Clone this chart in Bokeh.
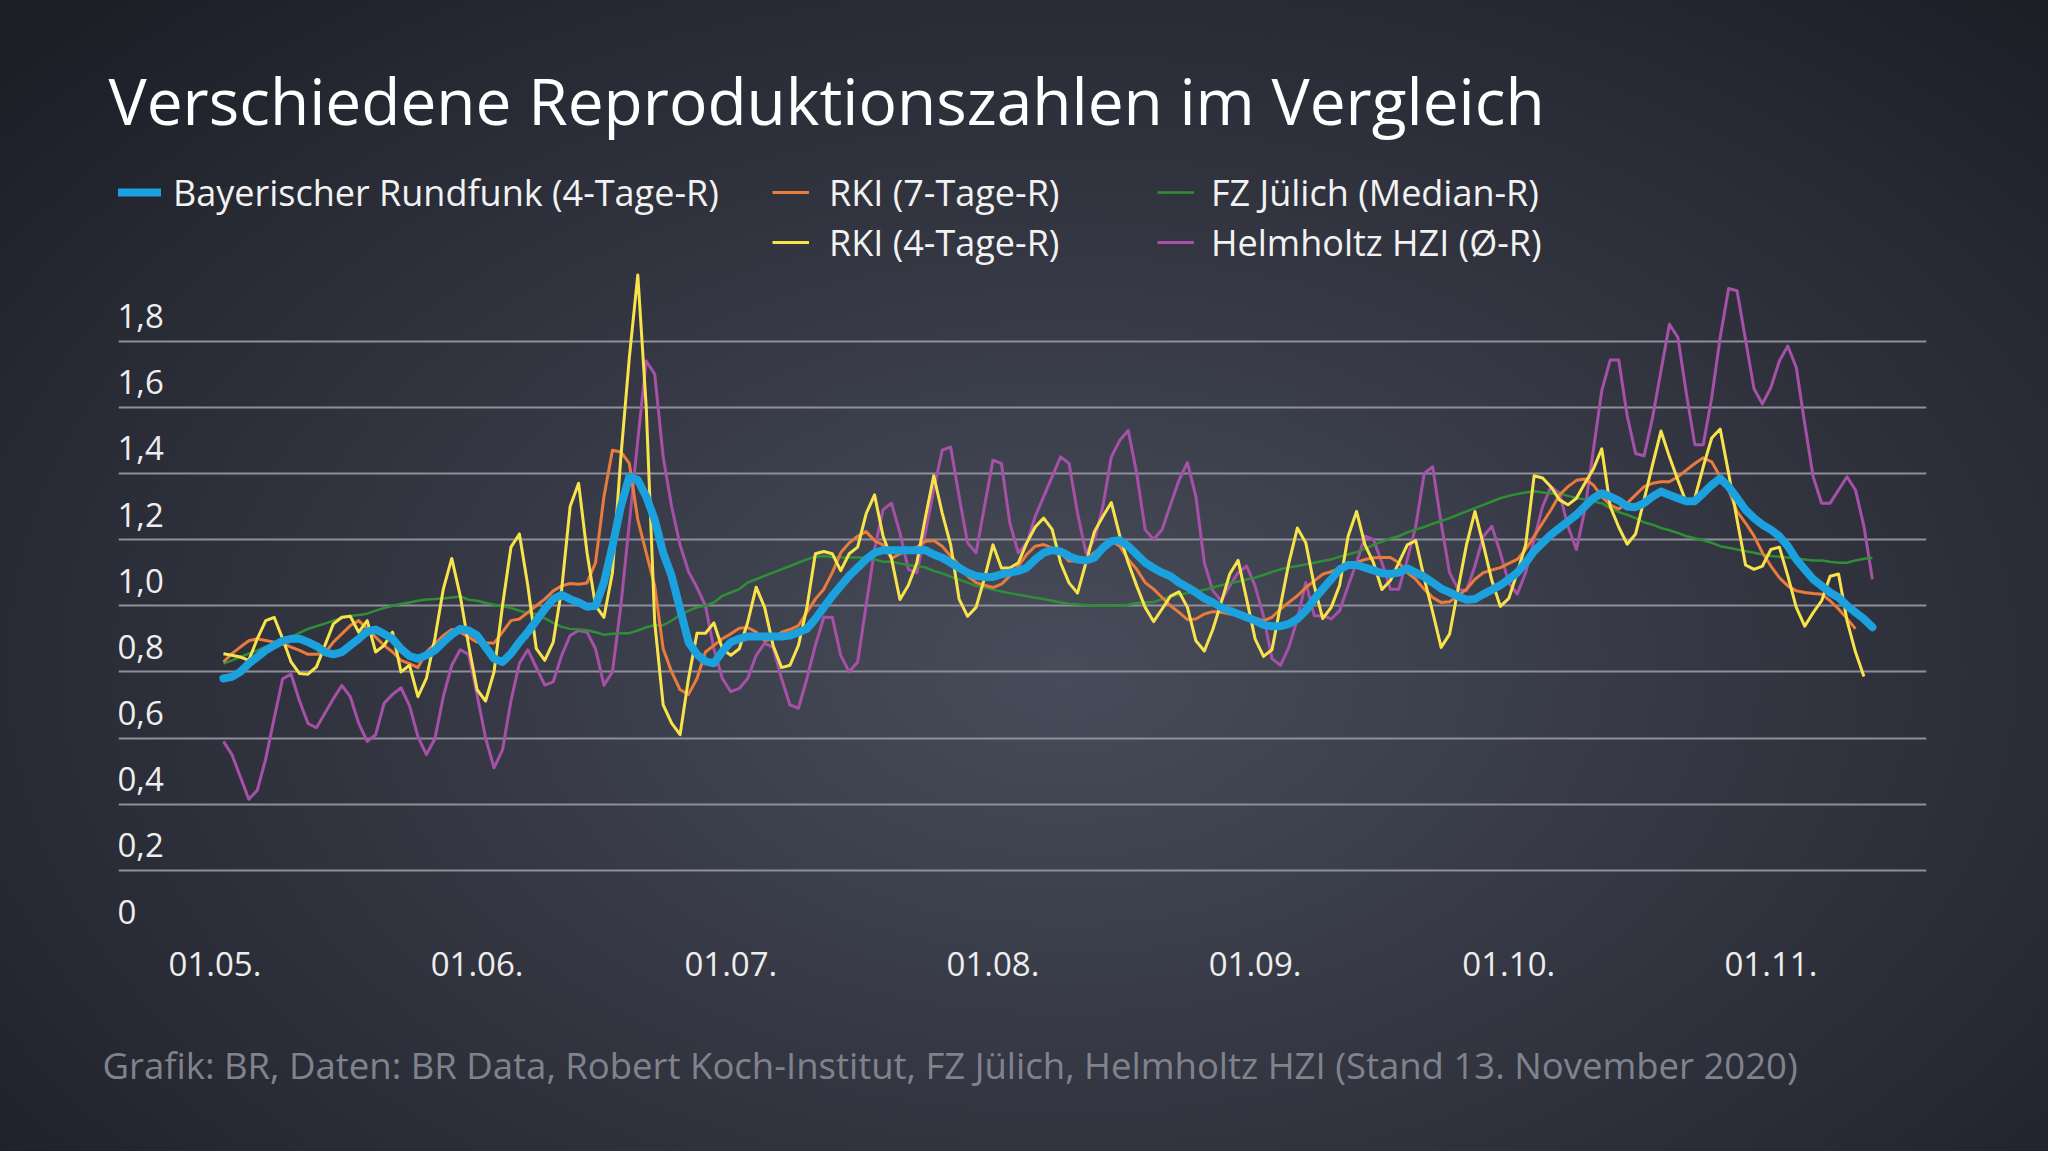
import pandas as pd
from bokeh.plotting import figure
from bokeh.models import (Range1d, FixedTicker, DatetimeTickFormatter, Legend, LegendItem,
                          Title, ColumnDataSource)
from bokeh.core.properties import value
from bokeh.embed import file_html
from bokeh.resources import INLINE

# ---------------- data (daily values) ----------------
series_start = "2020-05-02"

br_4tage = [
    0.78, 0.785, 0.80, 0.825, 0.845, 0.865, 0.88, 0.894, 0.90, 0.90,
    0.89, 0.878, 0.86, 0.853, 0.86, 0.88, 0.90, 0.922, 0.928, 0.915,
    0.90, 0.87, 0.848, 0.84, 0.85, 0.865, 0.89, 0.913, 0.93, 0.925,
    0.91, 0.875, 0.84, 0.83, 0.855, 0.89, 0.92, 0.955, 0.99, 1.02,
    1.033, 1.02, 1.01, 0.997, 1.0, 1.07, 1.18, 1.30, 1.39, 1.38,
    1.33, 1.26, 1.16, 1.09, 0.99, 0.89, 0.853, 0.832, 0.826, 0.862,
    0.89, 0.90, 0.907, 0.907, 0.907, 0.907, 0.907, 0.91, 0.92, 0.93,
    0.96, 0.995, 1.03, 1.06, 1.09, 1.115, 1.14, 1.16, 1.168, 1.168,
    1.168, 1.168, 1.168, 1.168, 1.155, 1.145, 1.13, 1.115, 1.10, 1.09,
    1.087, 1.087, 1.095, 1.10, 1.105, 1.115, 1.14, 1.16, 1.168, 1.164,
    1.15, 1.14, 1.137, 1.145, 1.175, 1.195, 1.198, 1.18, 1.155, 1.13,
    1.114, 1.10, 1.089, 1.07, 1.056, 1.04, 1.022, 1.01, 0.995, 0.985,
    0.975, 0.965, 0.955, 0.942, 0.938, 0.938, 0.945, 0.96, 0.985, 1.02,
    1.05, 1.08, 1.11, 1.123, 1.123, 1.115, 1.107, 1.098, 1.096, 1.10,
    1.113, 1.10, 1.087, 1.07, 1.052, 1.04, 1.028, 1.018, 1.02, 1.035,
    1.048, 1.062, 1.08, 1.10, 1.13, 1.165, 1.19, 1.215, 1.235, 1.255,
    1.275, 1.30, 1.325, 1.34, 1.33, 1.318, 1.30, 1.298, 1.31, 1.33,
    1.345, 1.335, 1.325, 1.316, 1.316, 1.34, 1.365, 1.385, 1.36, 1.325,
    1.29, 1.265, 1.245, 1.23, 1.21, 1.18, 1.14, 1.11, 1.08, 1.06,
    1.04, 1.025, 1.0, 0.98, 0.96, 0.935,
]

rki_7tage = [
    0.83, 0.855, 0.875, 0.894, 0.90, 0.895, 0.89, 0.885, 0.875, 0.865,
    0.853, 0.853, 0.857, 0.89, 0.915, 0.94, 0.955, 0.93, 0.905, 0.88,
    0.86, 0.835, 0.825, 0.813, 0.86, 0.885, 0.91, 0.928, 0.92, 0.905,
    0.89, 0.887, 0.887, 0.92, 0.955, 0.96, 0.98, 1.0, 1.02, 1.045,
    1.06, 1.067, 1.065, 1.069, 1.13, 1.33, 1.47, 1.465, 1.43, 1.26,
    1.16, 1.06, 0.87, 0.80, 0.746, 0.732, 0.78, 0.86, 0.88, 0.90,
    0.915, 0.932, 0.934, 0.92, 0.895, 0.90, 0.92, 0.928, 0.94, 0.98,
    1.02, 1.05, 1.10, 1.16, 1.19, 1.21, 1.224, 1.197, 1.184, 1.143,
    1.157, 1.167, 1.177, 1.195, 1.197, 1.18, 1.15, 1.123, 1.09, 1.07,
    1.062, 1.055, 1.065, 1.09, 1.12, 1.155, 1.18, 1.185, 1.175, 1.16,
    1.135, 1.135, 1.14, 1.16, 1.18, 1.195, 1.18, 1.14, 1.11, 1.07,
    1.05, 1.025, 1.0, 0.98, 0.958, 0.96, 0.975, 0.982, 0.98, 0.975,
    0.975, 0.97, 0.962, 0.955, 0.965, 0.99, 1.01, 1.03, 1.055, 1.075,
    1.095, 1.103, 1.113, 1.12, 1.13, 1.14, 1.145, 1.146, 1.146, 1.13,
    1.10, 1.08, 1.05, 1.025, 1.01, 1.012, 1.03, 1.05, 1.08, 1.10,
    1.108, 1.115, 1.128, 1.14, 1.17, 1.21, 1.25, 1.29, 1.335, 1.36,
    1.379, 1.383, 1.365, 1.33, 1.305, 1.292, 1.31, 1.335, 1.36, 1.37,
    1.375, 1.375, 1.39, 1.41, 1.43, 1.447, 1.435, 1.39, 1.35, 1.285,
    1.25, 1.211, 1.16, 1.12, 1.085, 1.06, 1.045, 1.04, 1.037, 1.035,
    1.015, 0.99, 0.961, 0.93,
]

rki_4tage = [
    0.855, 0.85, 0.845, 0.835, 0.90, 0.955, 0.965, 0.90, 0.83, 0.795,
    0.793, 0.815, 0.88, 0.945, 0.965, 0.968, 0.92, 0.955, 0.86, 0.88,
    0.92, 0.80, 0.82, 0.725, 0.78, 0.90, 1.05, 1.143, 1.03, 0.88,
    0.746, 0.712, 0.80, 1.0, 1.177, 1.217, 1.06, 0.87, 0.835, 0.89,
    1.05, 1.30, 1.37, 1.16, 1.0, 0.965, 1.10, 1.45, 1.75, 2.0,
    1.60, 0.95, 0.70, 0.645, 0.61, 0.78, 0.917, 0.917, 0.948, 0.87,
    0.85, 0.87, 0.95, 1.056, 0.995, 0.88, 0.813, 0.82, 0.88, 0.995,
    1.157, 1.164, 1.157, 1.106, 1.157, 1.177, 1.278, 1.335, 1.211, 1.143,
    1.019, 1.062, 1.13, 1.265, 1.393, 1.28, 1.184, 1.02, 0.968, 0.995,
    1.083, 1.184, 1.114, 1.114, 1.13, 1.19, 1.238, 1.265, 1.231, 1.13,
    1.069, 1.038, 1.13, 1.224, 1.27, 1.312, 1.211, 1.13, 1.06, 0.995,
    0.952, 0.99, 1.029, 1.042, 0.995, 0.894, 0.863, 0.928, 1.01, 1.096,
    1.137, 1.02, 0.90, 0.847, 0.867, 1.0, 1.13, 1.235, 1.19, 1.06,
    0.961, 0.995, 1.062, 1.21, 1.285, 1.184, 1.13, 1.049, 1.076, 1.13,
    1.184, 1.197, 1.083, 0.981, 0.874, 0.914, 1.05, 1.184, 1.285, 1.184,
    1.076, 0.998, 1.022, 1.10, 1.184, 1.393, 1.386, 1.359, 1.32, 1.305,
    1.325, 1.37, 1.413, 1.474, 1.30, 1.238, 1.186, 1.217, 1.32, 1.426,
    1.528, 1.45, 1.379, 1.312, 1.325, 1.42, 1.507, 1.534, 1.40, 1.26,
    1.123, 1.11, 1.12, 1.17, 1.177, 1.09, 0.995, 0.938, 0.979, 1.015,
    1.089, 1.096, 0.955, 0.86, 0.786,
]

fz_juelich = [
    0.825, 0.835, 0.845, 0.855, 0.865, 0.876, 0.886, 0.895, 0.905, 0.918,
    0.93, 0.938, 0.946, 0.955, 0.963, 0.97, 0.972, 0.976, 0.985, 0.993,
    1.0, 1.005, 1.01, 1.015, 1.019, 1.02, 1.022, 1.025, 1.028, 1.018,
    1.015, 1.008, 1.003, 0.998, 0.993, 0.985, 0.978, 0.975, 0.962, 0.948,
    0.936, 0.93, 0.928, 0.926, 0.92, 0.912, 0.915, 0.917, 0.917, 0.925,
    0.935, 0.941, 0.941, 0.955, 0.972, 0.985, 0.995, 1.0, 1.01, 1.03,
    1.04, 1.05, 1.07, 1.08, 1.09, 1.10, 1.11, 1.12, 1.13, 1.14,
    1.148, 1.15, 1.147, 1.146, 1.146, 1.146, 1.145, 1.14, 1.133, 1.133,
    1.128, 1.122, 1.12, 1.116, 1.105, 1.098, 1.088, 1.079, 1.07, 1.06,
    1.055, 1.049, 1.043, 1.038, 1.033, 1.029, 1.024, 1.02, 1.015, 1.01,
    1.006, 1.004, 1.002, 1.0, 1.0, 1.0, 1.0, 1.003, 1.008, 1.01,
    1.011, 1.02, 1.028, 1.033, 1.038, 1.043, 1.048, 1.055, 1.062, 1.068,
    1.073, 1.079, 1.085, 1.093, 1.102, 1.11, 1.116, 1.12, 1.125, 1.13,
    1.135, 1.14, 1.148, 1.155, 1.162, 1.172, 1.184, 1.194, 1.203, 1.21,
    1.222, 1.23, 1.238, 1.248, 1.256, 1.265, 1.275, 1.285, 1.295, 1.305,
    1.315, 1.325, 1.332, 1.338, 1.342, 1.346, 1.342, 1.339, 1.339, 1.332,
    1.326, 1.321, 1.315, 1.31, 1.295, 1.283, 1.275, 1.265, 1.252, 1.245,
    1.235, 1.228, 1.22, 1.21, 1.204, 1.198, 1.19, 1.18, 1.175, 1.17,
    1.165, 1.16, 1.155, 1.15, 1.148, 1.146, 1.143, 1.14, 1.137, 1.137,
    1.133, 1.13, 1.13, 1.137, 1.142, 1.145,
]

hzi = [
    0.59, 0.55, 0.483, 0.415, 0.442, 0.537, 0.66, 0.779, 0.793, 0.712,
    0.644, 0.631, 0.675, 0.719, 0.759, 0.725, 0.644, 0.59, 0.61, 0.705,
    0.732, 0.752, 0.698, 0.604, 0.55, 0.597, 0.725, 0.82, 0.867, 0.853,
    0.73, 0.60, 0.51, 0.564, 0.712, 0.826, 0.867, 0.813, 0.76, 0.77,
    0.85, 0.91, 0.925, 0.92, 0.87, 0.76, 0.80, 1.0, 1.25, 1.50,
    1.74, 1.70, 1.45, 1.30, 1.184, 1.103, 1.055, 1.0, 0.87, 0.78,
    0.74, 0.75, 0.78, 0.85, 0.887, 0.874, 0.78, 0.70, 0.69, 0.78,
    0.88, 0.965, 0.965, 0.85, 0.80, 0.83, 1.0, 1.17, 1.29, 1.31,
    1.22, 1.11, 1.10, 1.22, 1.35, 1.47, 1.48, 1.33, 1.19, 1.16,
    1.30, 1.44, 1.43, 1.25, 1.16, 1.19, 1.27, 1.33, 1.39, 1.45,
    1.43, 1.28, 1.16, 1.20, 1.30, 1.45, 1.50, 1.53, 1.40, 1.23,
    1.20, 1.23, 1.305, 1.379, 1.433, 1.33, 1.13, 1.045, 1.015, 1.06,
    1.10, 1.12, 1.06, 0.968, 0.84, 0.82, 0.875, 0.96, 1.07, 0.97,
    0.97, 0.96, 0.985, 1.06, 1.13, 1.21, 1.20, 1.13, 1.05, 1.05,
    1.14, 1.24, 1.40, 1.42, 1.25, 1.10, 1.05, 1.045, 1.12, 1.21,
    1.24, 1.16, 1.07, 1.035, 1.10, 1.20, 1.30, 1.36, 1.34, 1.24,
    1.17, 1.29, 1.47, 1.65, 1.743, 1.743, 1.575, 1.46, 1.453, 1.568,
    1.71, 1.851, 1.811, 1.642, 1.487, 1.487, 1.629, 1.811, 1.959, 1.952,
    1.804, 1.656, 1.61, 1.66, 1.74, 1.785, 1.72, 1.55, 1.39, 1.31,
    1.31, 1.35, 1.39, 1.35, 1.24, 1.08,
]

x_tick_dates = ["2020-05-01", "2020-06-01", "2020-07-01", "2020-08-01",
                "2020-09-01", "2020-10-01", "2020-11-01"]
y_ticks = [0, 0.2, 0.4, 0.6, 0.8, 1.0, 1.2, 1.4, 1.6, 1.8]
y_tick_labels = ["0", "0,2", "0,4", "0,6", "0,8", "1,0", "1,2", "1,4", "1,6", "1,8"]

series_names = ["Bayerischer Rundfunk (4-Tage-R)", "RKI (7-Tage-R)", "FZ Jülich (Median-R)",
                "RKI (4-Tage-R)", "Helmholtz HZI (Ø-R)"]

title_text = "Verschiedene Reproduktionszahlen im Vergleich"
footer_text = ("Grafik: BR, Daten: BR Data, Robert Koch-Institut, FZ Jülich, "
               "Helmholtz HZI (Stand 13. November 2020)")

# ---------------- styling / layout ----------------
FONT = "Open Sans"
W, H = 2032, 1151
t0 = pd.Timestamp("2020-05-01")
x_lo = t0 + pd.Timedelta(days=-11.41)
x_hi = t0 + pd.Timedelta(days=202.4)


def src(vals):
    return ColumnDataSource(dict(date=pd.date_range(series_start, periods=len(vals), freq="D"),
                                 r=vals))


p = figure(width=W, height=H, x_axis_type="datetime",
           x_range=Range1d(x_lo, x_hi), y_range=Range1d(0, 2.352),
           output_backend="svg", toolbar_location=None,
           min_border_left=118, min_border_right=106, min_border_top=158, min_border_bottom=215,
           background_fill_color=None, border_fill_color=None, outline_line_color=None)

p.title.text = title_text
p.title.text_font = FONT
p.title.text_font_size = "64px"
p.title.text_font_style = "normal"
p.title.text_color = "#ffffff"
p.title.offset = -10
p.title.standoff = 30

# grid
p.xgrid.visible = False
p.ygrid.ticker = FixedTicker(ticks=y_ticks)
p.ygrid.grid_line_color = "#8e9099"
p.ygrid.grid_line_width = 2

# axes
p.yaxis.visible = False
xa = p.xaxis[0]
xa.ticker = FixedTicker(ticks=[pd.Timestamp(d).value // 10**6 for d in x_tick_dates])
fmt = "%d.%m."
xa.formatter = DatetimeTickFormatter(days=fmt, months=fmt, years=fmt, hours=fmt,
                                     hourmin=fmt, minutes=fmt, minsec=fmt, seconds=fmt,
                                     milliseconds=fmt, microseconds=fmt)
xa.axis_line_color = None
xa.major_tick_line_color = None
xa.minor_tick_line_color = None
xa.major_tick_out = 0
xa.major_tick_in = 0
xa.major_label_standoff = 15
xa.major_label_text_font = FONT
xa.major_label_text_font_size = "33px"
xa.major_label_text_color = "#eeeeee"

# y tick labels (sit above the grid lines, left aligned)
ylab = ColumnDataSource(dict(x=[x_lo] * len(y_ticks), y=y_ticks, t=y_tick_labels))
p.text(x="x", y="y", text="t", source=ylab, text_font=value(FONT), text_font_size="33px",
       text_color="#eeeeee", text_align="left", text_baseline="alphabetic",
       x_offset=-1, y_offset=-25)

# lines
r_hzi = p.line("date", "r", source=src(hzi), line_color="#a650a8", line_width=3,
               line_join="round")
r_fz = p.line("date", "r", source=src(fz_juelich), line_color="#2f8f36", line_width=2.5,
              line_join="round")
r_rki7 = p.line("date", "r", source=src(rki_7tage), line_color="#e97b3c", line_width=3,
                line_join="round")
r_rki4 = p.line("date", "r", source=src(rki_4tage), line_color="#f8e44a", line_width=3,
                line_join="round")
r_br = p.line("date", "r", source=src(br_4tage), line_color="#1ba1dd", line_width=8,
              line_join="round", line_cap="round")


def add_legend(label, renderer, vx, vy, gw, standoff):
    lg = Legend(items=[LegendItem(label=label, renderers=[renderer])], location=(vx, vy),
                orientation="horizontal", padding=0, margin=0, spacing=0,
                glyph_width=gw, glyph_height=20, label_standoff=standoff, label_height=50,
                label_text_font=FONT, label_text_font_size="36px", label_text_color="#f2f2f2",
                background_fill_alpha=0, border_line_alpha=0)
    p.add_layout(lg)


add_legend(series_names[0], r_br, -3, 719, 46, 12)
add_legend(series_names[1], r_rki7, 654, 719, 37, 20)
add_legend(series_names[2], r_fz, 1039, 719, 37, 17)
add_legend(series_names[3], r_rki4, 654, 669, 37, 20)
add_legend(series_names[4], r_hzi, 1039, 669, 37, 17)

footer = Title(text=footer_text, align="left", offset=-16, standoff=118,
               text_font=FONT, text_font_size="36.5px", text_font_style="normal",
               text_color="#80838c")
p.add_layout(footer, "below")

TEMPLATE = """
{% block preamble %}
<style>
html {
  background: radial-gradient(ellipse 70% 80% at 52% 58%, #484c5a 0%, #30333e 55%, #1c1e26 100%);
  min-height: 100%;
}
body { background: transparent; }
</style>
{% endblock %}
"""

html = file_html(p, INLINE, title="Reproduktionszahlen", template=TEMPLATE)
open("out.html", "w").write(html)
